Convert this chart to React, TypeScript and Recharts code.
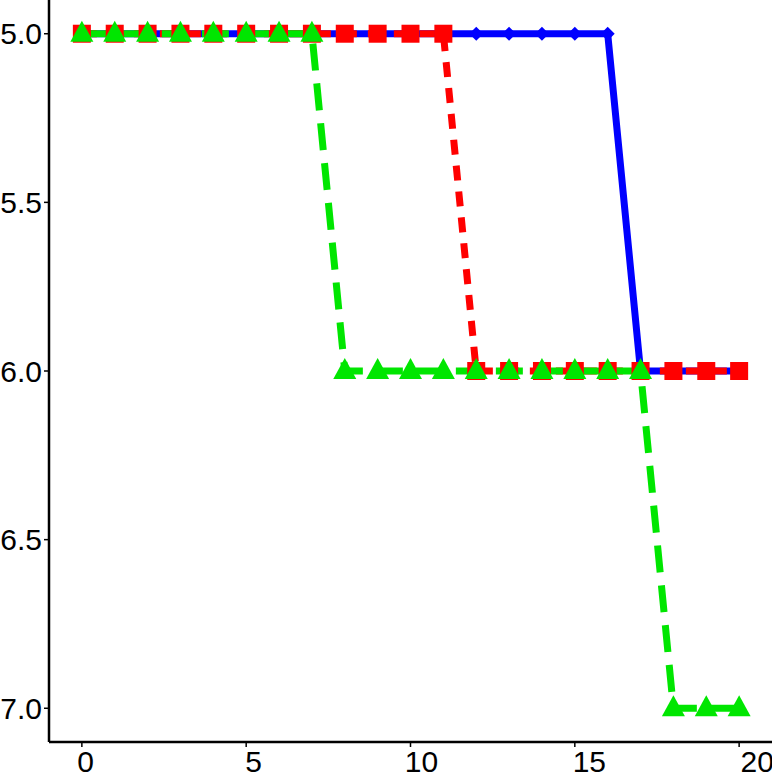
import React from "react";
import { LineChart, Line, XAxis, YAxis } from "recharts";

const xValues = [0, 1, 2, 3, 4, 5, 6, 7, 8, 9, 10, 11, 12, 13, 14, 15, 16, 17, 18, 19, 20];
const blueValues = [5, 5, 5, 5, 5, 5, 5, 5, 5, 5, 5, 5, 5, 5, 5, 5, 5, 6, 6, 6, 6];
const redValues = [5, 5, 5, 5, 5, 5, 5, 5, 5, 5, 5, 5, 6, 6, 6, 6, 6, 6, 6, 6, 6];
const greenValues = [5, 5, 5, 5, 5, 5, 5, 5, 6, 6, 6, 6, 6, 6, 6, 6, 6, 6, 7, 7, 7];
const xTicks = [0, 5, 10, 15, 20];
const yTicks = [5, 5.5, 6, 6.5, 7];

const data = xValues.map((x, i) => ({
  x,
  blue: blueValues[i],
  red: redValues[i],
  green: greenValues[i],
}));

const FONT = "'Liberation Sans', Arial, Helvetica, sans-serif";

const Diamond = (props: any) => {
  const { cx, cy } = props;
  if (cx == null || cy == null) return null;
  const r = 7;
  return (
    <polygon
      points={`${cx},${cy - r} ${cx + r},${cy} ${cx},${cy + r} ${cx - r},${cy}`}
      fill="#0000ff"
    />
  );
};

const Square = (props: any) => {
  const { cx, cy } = props;
  if (cx == null || cy == null) return null;
  const s = 18;
  return <rect x={cx - s / 2} y={cy - s / 2} width={s} height={s} fill="#ff0000" />;
};

const Triangle = (props: any) => {
  const { cx, cy } = props;
  if (cx == null || cy == null) return null;
  return (
    <polygon
      points={`${cx},${cy - 13} ${cx + 11.5},${cy + 8} ${cx - 11.5},${cy + 8}`}
      fill="#00e600"
    />
  );
};

const XTick = (props: any) => {
  const { x, y, payload } = props;
  const v = Number(payload.value);
  return (
    <text
      x={x + 3.7 + 0.72 * v}
      y={y}
      dy="0.71em"
      textAnchor="middle"
      fontSize={30}
      fontFamily={FONT}
      fill="#000"
    >
      {String(v)}
    </text>
  );
};

export default function App() {
  return (
    <div style={{ position: "absolute", left: 0, top: 0, width: 772, height: 772, background: "#fff" }}>
      <LineChart
        width={772}
        height={772}
        data={data}
        margin={{ top: 0, right: 0, bottom: 0, left: 0 }}
      >
        <XAxis
          dataKey="x"
          type="number"
          domain={[-1, 21]}
          ticks={xTicks}
          height={30}
          tickSize={5}
          tickMargin={4}
          axisLine={{ stroke: "#000", strokeWidth: 2.5 }}
          tickLine={{ stroke: "#000", strokeWidth: 1.5 }}
          tick={<XTick />}
          allowDataOverflow
        />
        <YAxis
          type="number"
          reversed
          domain={[4.9, 7.1]}
          ticks={yTicks}
          width={49}
          tickSize={5}
          tickMargin={2}
          tickFormatter={(v: number) => v.toFixed(1)}
          axisLine={{ stroke: "#000", strokeWidth: 2.5 }}
          tickLine={{ stroke: "#000", strokeWidth: 1.5 }}
          tick={{ fill: "#000", fontSize: 30, fontFamily: FONT }}
          allowDataOverflow
        />
        <Line
          dataKey="blue"
          type="linear"
          stroke="#0000ff"
          strokeWidth={7}
          dot={<Diamond />}
          activeDot={false}
          isAnimationActive={false}
        />
        <Line
          dataKey="red"
          type="linear"
          stroke="#ff0000"
          strokeWidth={7}
          strokeDasharray="15 11"
          dot={<Square />}
          activeDot={false}
          isAnimationActive={false}
        />
        <Line
          dataKey="green"
          type="linear"
          stroke="#00e600"
          strokeWidth={7}
          strokeDasharray="27 13"
          dot={<Triangle />}
          activeDot={false}
          isAnimationActive={false}
        />
      </LineChart>
    </div>
  );
}
